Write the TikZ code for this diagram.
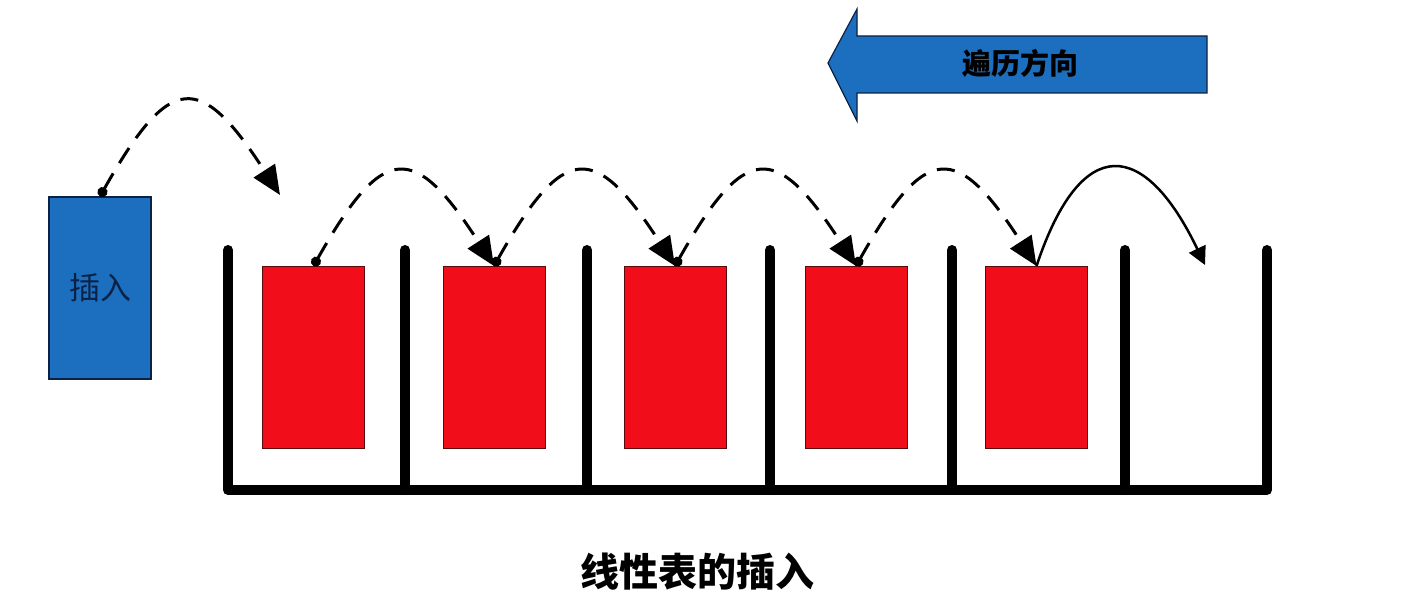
\documentclass[tikz,border=0pt]{standalone}
\usepackage{fontspec}
\newfontfamily\cjk{Noto Sans CJK SC}
\usetikzlibrary{arrows.meta}
\definecolor{myblue}{HTML}{1C6EBF}
\definecolor{myred}{HTML}{F20D1B}
\definecolor{navy}{HTML}{0B2246}
\definecolor{rededge}{HTML}{5A0A0A}
\begin{document}
\begin{tikzpicture}[x=1pt,y=-1pt,
  redbox/.style={draw=rededge, line width=1pt, fill=myred, minimum width=102pt, minimum height=182pt, inner sep=0pt},
  bluebox/.style={draw=navy, line width=1.2pt, fill=myblue, minimum width=102pt, minimum height=182pt, inner sep=0pt, font=\cjk\fontsize{31}{31}\selectfont, text=navy},
  bar/.style={line width=10pt, line cap=round, line join=round},
  hop/.style={line width=3pt, dash pattern=on 18pt off 12pt, {Circle[length=10pt]}-{Triangle[length=29pt,width=25pt]}},
  moveline/.style={line width=2.5pt, -{Triangle[length=18pt,width=18pt]}},
  bigarrow/.style={draw=navy, line width=1.2pt, fill=myblue},
]
\useasboundingbox[fill=white] (0,0) rectangle (1404,604);

% container
\draw[bar] (228,250) -- (228,490) -- (1267,490) -- (1267,250);
\foreach \x in {405,587,770,952,1125} \draw[bar] (\x,250) -- (\x,490);

% elements
\node[bluebox] (ins) at (100,288) {插入};
\node[redbox] (r1) at (313.5,357.5) {};
\node[redbox] (r2) at (494,357.5) {};
\node[redbox] (r3) at (675,357.5) {};
\node[redbox] (r4) at (856,357.5) {};
\node[redbox] (r5) at (1036.5,357.5) {};
\coordinate (drop) at (280,195);
\coordinate (slot) at (1205,265);

% hops
\draw[hop] (ins.north) .. controls +(70,-124) and +(-80,-124) .. (drop);
\draw[hop] (r1.north) .. controls +(70,-124) and +(-80,-124) .. (r2.north);
\draw[hop] (r2.north) .. controls +(70,-124) and +(-80,-124) .. (r3.north);
\draw[hop] (r3.north) .. controls +(70,-124) and +(-80,-124) .. (r4.north);
\draw[hop] (r4.north) .. controls +(70,-124) and +(-80,-124) .. (r5.north);
\draw[moveline] (r5.north) .. controls +(45,-135) and +(-60,-125) .. (slot);

% direction arrow
\draw[bigarrow] (828,63) -- (857,9) -- (857,36) -- (1207,36) -- (1207,93) -- (857,93) -- (857,121) -- cycle;
\node[font=\cjk\bfseries\fontsize{29}{29}\selectfont] (dir) at (1020,63) {遍历方向};

% caption
\node[font=\cjk\bfseries\fontsize{39}{39}\selectfont] (cap) at (697,572) {线性表的插入};
\end{tikzpicture}
\end{document}
